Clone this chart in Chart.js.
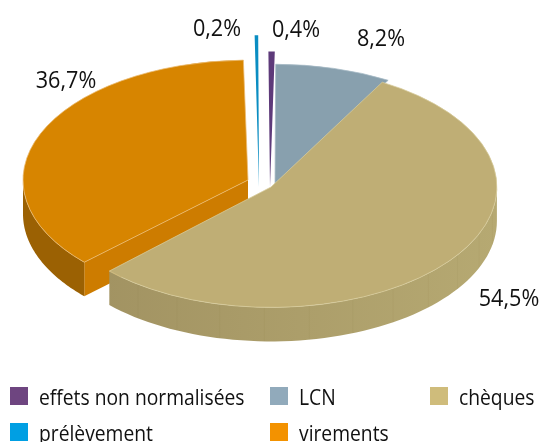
<!DOCTYPE html>
<html lang="fr">
<head>
<meta charset="utf-8">
<title>Moyens de paiement</title>
<script src="https://cdn.jsdelivr.net/npm/chart.js@4"></script>
<style>
 html,body{margin:0;padding:0;background:#fff;}
 #wrap{position:relative;width:539px;height:442px;overflow:hidden;}
 #pie{position:absolute;left:0;top:0;}
 .leg{position:absolute;font:22px "Open Sans",sans-serif;color:#111;line-height:20px;white-space:nowrap;}
 .leg i{position:absolute;left:0;top:0;width:18px;height:18px;}
 .leg span{position:absolute;left:29px;top:-1px;transform:scaleX(.876);transform-origin:0 50%;}
</style>
</head>
<body>
<div id="wrap"><canvas id="pie" width="539" height="442"></canvas></div>
<script>
/* ---------------- data (clockwise from the top) ---------------- */
const categories=["effets non normalisées","LCN","chèques","virements","prélèvement"];
const shares=[0.4,8.2,54.5,36.7,0.2];
const shareLabels=["0,4%","8,2%","54,5%","36,7%","0,2%"];
const legendOrder=[0,1,2,4,3];

/* ---------------- look ---------------- */
const topColors=["#5e3a7a","#88a0ae","#bfae75","#d78500","#0a8dc2"];
const edgeColors=["#5e3a7a","#a6bac6","#d8cc9c","#ecbc74","#0a8dc2"];
const edgeWidths=[0,1,1,1,0];
const legendColors=["#6e4580","#91aabb","#cfbc7b","#f39200","#009fe3"];
const wallColors=[null,null,["#9f9060","#b6a972"],["#9b6103","#9b6103"],null];
const faceColors=[null,null,"#a89a68","#cd7c00",null];
const CX=272,CY=187,SQUASH=.533,DEPTH=34,RADIUS=225;
/* exploded slices: apex shift (px, screen), radial reach, small tilt (deg) */
const shiftX=[-2,3,-1,-24,-13], shiftY=[0,-1,0,-7,0], reach=[1.13,1.015,1.004,1,1.265], tilt=[1.1,.2,0,1,1.3];
const labelAt=[[296,30],[381,39],[509,299],[66,81],[217,29]];
const legendAt=[[10,387],[270,387],[430,387],[10,423],[270,423]];
const FONT='23.5px "Open Sans",sans-serif';

/* ---------------- squashed pie with side walls ---------------- */
function place(chart){
 chart.getDatasetMeta(0).data.forEach((a,i)=>{
  if(a._base===undefined){a._base=1;
   const t=tilt[i]*Math.PI/180;a.startAngle+=t;a.endAngle+=t;}
  a.x=shiftX[i];a.y=shiftY[i]/SQUASH;a.outerRadius=RADIUS*reach[i];
 });
}
function rim(a,t){return [CX+a.x+a.outerRadius*Math.cos(t),CY+SQUASH*(a.y+a.outerRadius*Math.sin(t))];}
function drawWalls(ctx,a,i){
 if(!wallColors[i])return;
 const apex=[CX+a.x,CY+SQUASH*a.y];
 const face=t=>{
  const p=rim(a,t);
  ctx.beginPath();ctx.moveTo(apex[0],apex[1]);ctx.lineTo(p[0],p[1]);ctx.lineTo(p[0],p[1]+DEPTH);ctx.lineTo(apex[0],apex[1]+DEPTH);
  ctx.closePath();ctx.fillStyle=faceColors[i];ctx.fill();
 };
 if(Math.cos(a.startAngle)<-.2)face(a.startAngle);
 if(Math.cos(a.endAngle)>.2)face(a.endAngle);
 const from=Math.max(a.startAngle,0),to=Math.min(a.endAngle,Math.PI);
 if(to<=from)return;
 const n=64,pts=[];
 for(let k=0;k<=n;k++)pts.push(rim(a,from+(to-from)*k/n));
 const g=ctx.createLinearGradient(CX-RADIUS,0,CX+RADIUS,0);
 g.addColorStop(0,wallColors[i][0]);g.addColorStop(1,wallColors[i][1]);
 ctx.beginPath();pts.forEach((p,k)=>k?ctx.lineTo(p[0],p[1]):ctx.moveTo(p[0],p[1]));
 pts.slice().reverse().forEach(p=>ctx.lineTo(p[0],p[1]+DEPTH));
 ctx.closePath();ctx.fillStyle=g;ctx.fill();
 if(i!==2)return;
 /* faint facet seams */
 ctx.strokeStyle="rgba(90,75,30,.04)";ctx.lineWidth=1;
 for(let t=from+.2;t<to;t+=.2){const p=rim(a,t);ctx.beginPath();ctx.moveTo(p[0],p[1]);ctx.lineTo(p[0],p[1]+DEPTH);ctx.stroke();}
}
const pie3d={
 id:"pie3d",
 beforeDatasetsDraw(chart){
  const ctx=chart.ctx,arcs=chart.getDatasetMeta(0).data;
  place(chart);
  [3,2].forEach(i=>drawWalls(ctx,arcs[i],i));
  ctx.save();ctx.translate(CX,CY);ctx.scale(1,SQUASH);
 },
 afterDatasetsDraw(chart){chart.ctx.restore();},
 afterDraw(chart){
  const ctx=chart.ctx;
  ctx.font=FONT;ctx.fillStyle="#111";ctx.textAlign="center";ctx.textBaseline="middle";
  shareLabels.forEach((s,i)=>{
   ctx.save();ctx.translate(labelAt[i][0],labelAt[i][1]);ctx.scale(.92,1);ctx.fillText(s,0,0);ctx.restore();
  });
 }
};

new Chart(document.getElementById("pie"),{
 type:"pie",
 data:{labels:categories,datasets:[{data:shares,backgroundColor:topColors,borderColor:edgeColors,borderWidth:edgeWidths,clip:false}]},
 options:{responsive:false,animation:false,events:[],radius:RADIUS,rotation:-1.46,
  plugins:{legend:{display:false},tooltip:{enabled:false}}},
 plugins:[pie3d]
});

/* ---------------- legend (fixed columns) ---------------- */
const wrap=document.getElementById("wrap");
legendOrder.forEach((c,k)=>{
 const d=document.createElement("div");d.className="leg";
 d.style.left=legendAt[k][0]+"px";d.style.top=legendAt[k][1]+"px";
 d.innerHTML=`<i style="background:${legendColors[c]}"></i><span>${categories[c]}</span>`;
 wrap.appendChild(d);
});
</script>
</body>
</html>
